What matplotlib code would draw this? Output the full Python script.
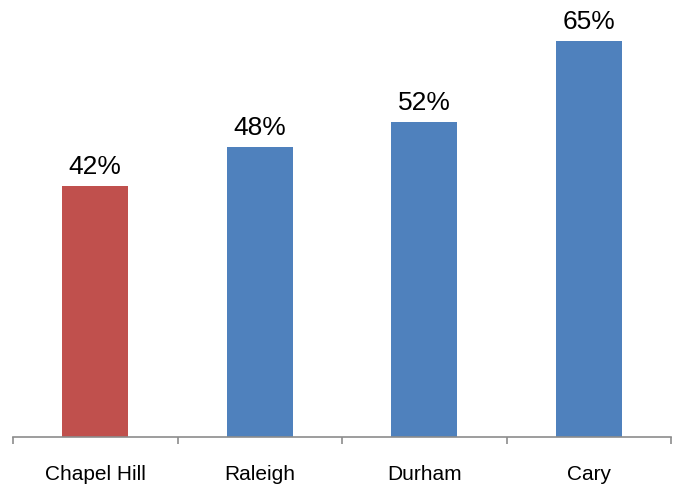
import matplotlib
matplotlib.use("Agg")
import matplotlib.pyplot as plt
import numpy as np

cities = ["Chapel Hill", "Raleigh", "Durham", "Cary"]
values = [41.2, 47.6, 51.7, 65.0]
labels = ["42%", "48%", "52%", "65%"]
colors = ["#C0504D", "#4F81BD", "#4F81BD", "#4F81BD"]

plt.rcParams['font.family'] = ['Liberation Sans', 'DejaVu Sans']

fig = plt.figure(figsize=(6.75, 4.87), dpi=100)
ax = fig.add_axes([13/675, 50/487, 658/675, 426/487])

x = np.arange(len(cities))
ax.bar(x, values, width=0.4, color=colors)
for xi, v, lab in zip(x, values, labels):
    ax.text(xi, v + 1.2, lab, ha="center", va="bottom", fontsize=19)

ax.set_xlim(-0.5, len(cities) - 0.5)
ax.set_ylim(0, 70)
ax.set_yticks([])
for s in ["top", "right", "left"]:
    ax.spines[s].set_visible(False)
ax.spines["bottom"].set_color("#8C8C8C")
ax.spines["bottom"].set_linewidth(1.2)

# category boundaries get the tick marks, names sit between them
ax.set_xticks(np.arange(-0.5, len(cities)))
ax.set_xticklabels([])
ax.tick_params(axis="x", which="major", direction="out", length=5, color="#8C8C8C", width=1.2)
ax.set_xticks(x, minor=True)
ax.set_xticklabels(cities, minor=True, fontsize=15)
ax.tick_params(axis="x", which="minor", length=0, pad=20)

fig.savefig("out.png", dpi=100)
